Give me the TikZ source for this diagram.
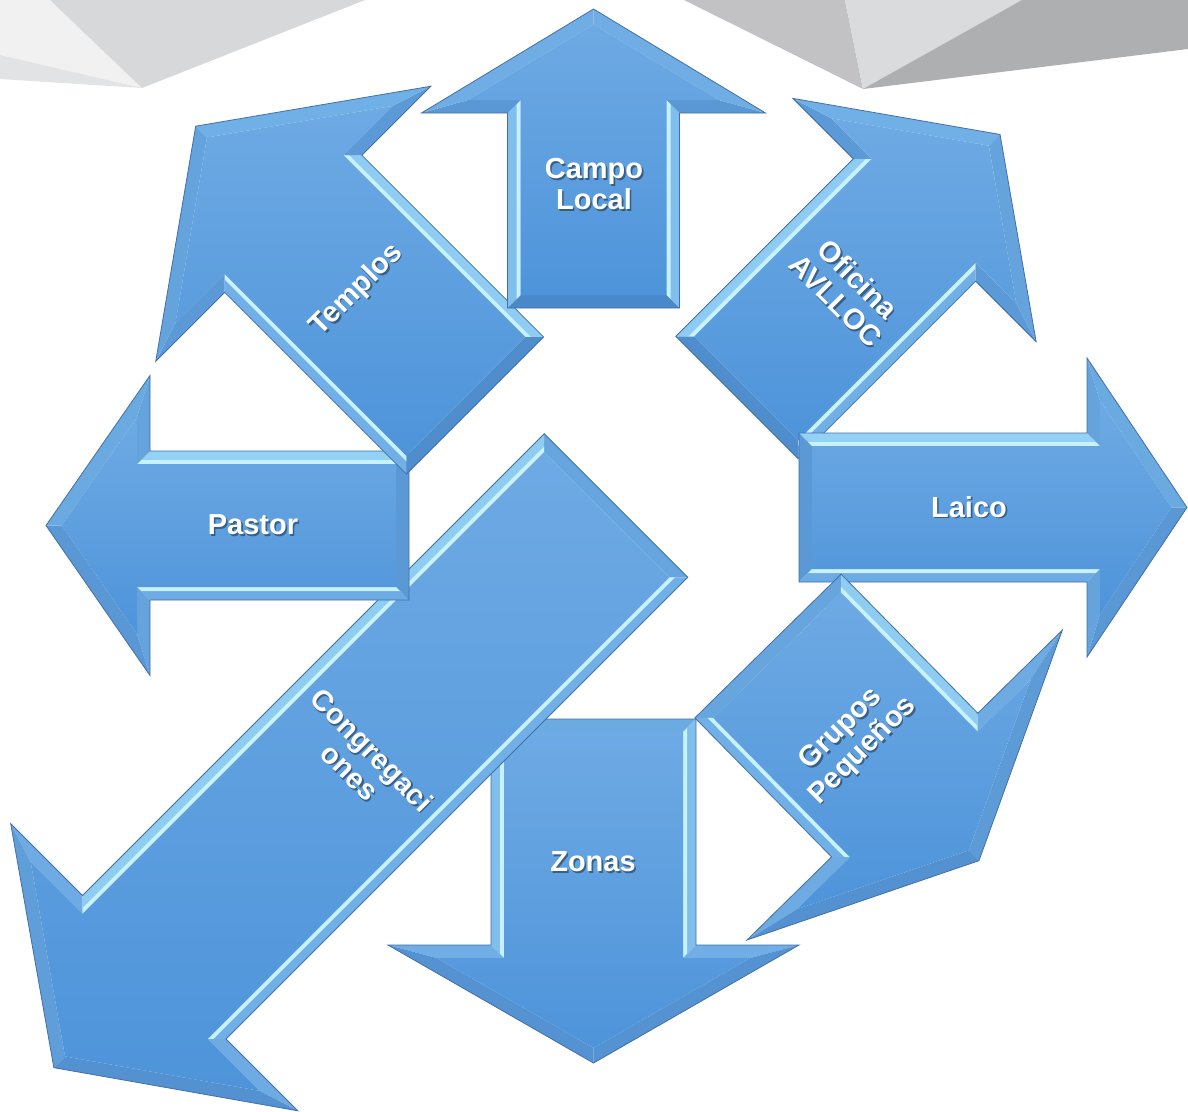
\documentclass[tikz,border=0pt]{standalone}
\usepackage{fontspec}
\setmainfont{Liberation Sans}
\usetikzlibrary{calc}
\definecolor{facetop}{RGB}{110,170,228}
\definecolor{facebot}{RGB}{78,148,218}
\definecolor{bevlight}{RGB}{122,184,236}
\definecolor{bevdark}{RGB}{66,128,196}
\definecolor{sidelight}{RGB}{150,212,246}
\definecolor{sidedark}{RGB}{100,164,224}
\definecolor{hilite}{RGB}{200,242,255}
\definecolor{edgec}{RGB}{66,112,166}
\definecolor{gA}{RGB}{241,241,241}
\definecolor{gB}{RGB}{226,227,228}
\definecolor{gC}{RGB}{215,216,218}
\definecolor{gD}{RGB}{194,194,196}
\definecolor{gE}{RGB}{218,219,221}
\definecolor{gF}{RGB}{174,175,177}

% #1 name, #2 x, #3 y (tail centre, pixels), #4 direction, #5 length, #6 half shaft, #7 half head, #8 head length
\newcommand{\blockarrow}[8]{%
  \begin{scope}[shift={(#2,#3)},rotate=#4]
    \pgfmathsetmacro{\bhb}{#5-#8}
    \pgfmathsetmacro{\bhbi}{#5-#8+13}
    \pgfmathsetmacro{\bai}{#6-13}
    \pgfmathsetmacro{\bak}{#6-9}
    \pgfmathsetmacro{\bsf}{13*sqrt((#8/100)*(#8/100)+(#7/100)*(#7/100))*100/(#8)}
    \pgfmathsetmacro{\byc}{(#7)/(#8)*((#8)-13)-\bsf}
    \pgfmathsetmacro{\bxt}{#5-\bsf/(#7)*(#8)}
    \coordinate (#1-o1) at (0,-#6);
    \coordinate (#1-o2) at (\bhb,-#6);
    \coordinate (#1-o3) at (\bhb,-#7);
    \coordinate (#1-o4) at (#5,0);
    \coordinate (#1-o5) at (\bhb,#7);
    \coordinate (#1-o6) at (\bhb,#6);
    \coordinate (#1-o7) at (0,#6);
    \coordinate (#1-i1) at (13,-\bai);
    \coordinate (#1-i2) at (\bhbi,-\bai);
    \coordinate (#1-i3) at (\bhbi,-\byc);
    \coordinate (#1-i4) at (\bxt,0);
    \coordinate (#1-i5) at (\bhbi,\byc);
    \coordinate (#1-i6) at (\bhbi,\bai);
    \coordinate (#1-i7) at (13,\bai);
    \coordinate (#1-h1) at (9,-\bak);
    \coordinate (#1-h2) at (\bhbi-4,-\bak);
    \coordinate (#1-h6) at (\bhbi-4,\bak);
    \coordinate (#1-h7) at (9,\bak);
  \end{scope}
  \pgfmathtruncatemacro{\ptail}{45+30*sin(#4+180)}
  \pgfmathtruncatemacro{\pnotch}{62+20*sin(#4+180)}
  \pgfmathtruncatemacro{\pha}{58+28*sin(#4+atan2(#8,#7))}
  \pgfmathtruncatemacro{\phb}{58+28*sin(#4-atan2(#8,#7))}
  \pgfmathtruncatemacro{\psa}{55+40*sin(#4+90)}
  \pgfmathtruncatemacro{\psb}{55+40*sin(#4-90)}
  \fill[bevlight!\ptail!bevdark] (#1-o7)--(#1-o1)--(#1-i1)--(#1-i7)--cycle;
  \fill[sidelight!\psa!sidedark] (#1-o1)--(#1-o2)--(#1-i2)--(#1-i1)--cycle;
  \fill[sidelight!\psb!sidedark] (#1-o6)--(#1-o7)--(#1-i7)--(#1-i6)--cycle;
  \fill[hilite] (#1-i1)--(#1-i2)--(#1-h2)--(#1-h1)--cycle;
  \fill[hilite] (#1-i7)--(#1-i6)--(#1-h6)--(#1-h7)--cycle;
  \fill[bevlight!\pnotch!bevdark] (#1-o2)--(#1-o3)--(#1-i3)--(#1-i2)--cycle;
  \fill[bevlight!\pnotch!bevdark] (#1-o5)--(#1-o6)--(#1-i6)--(#1-i5)--cycle;
  \fill[bevlight!\pha!bevdark] (#1-o3)--(#1-o4)--(#1-i4)--(#1-i3)--cycle;
  \fill[bevlight!\phb!bevdark] (#1-o4)--(#1-o5)--(#1-i5)--(#1-i4)--cycle;
  \shade[top color=facetop,bottom color=facebot] (#1-i1)--(#1-i2)--(#1-i3)--(#1-i4)--(#1-i5)--(#1-i6)--(#1-i7)--cycle;
  \draw[edgec,line width=0.8pt,line join=miter] (#1-o1)--(#1-o2)--(#1-o3)--(#1-o4)--(#1-o5)--(#1-o6)--(#1-o7)--cycle;
}

\tikzset{
  lbl/.style={text=white,font=\bfseries\fontsize{29}{31}\selectfont,align=center,inner sep=0pt},
  lblsh/.style={lbl,text=black,opacity=0.4}
}
% #1 name, #2 x, #3 y, #4 rotation, #5 text
\newcommand{\arrowlabel}[5]{%
  \node[lblsh,rotate=#4] (#1-sh) at ($(#2,#3)+(1.6,1.6)$) {#5};
  \node[lbl,rotate=#4] (#1) at (#2,#3) {#5};
}

\begin{document}
\begin{tikzpicture}[x=1pt,y=-1pt]
  \useasboundingbox (0,0) rectangle (1188,1111);
  \fill[white] (0,0) rectangle (1188,1111);
  % background facets
  \fill[gA] (0,0) -- (50,0) -- (142,88) -- (0,55) -- cycle;
  \fill[gB] (0,55) -- (142,88) -- (0,79) -- cycle;
  \fill[gC] (50,0) -- (365,0) -- (142,88) -- cycle;
  \fill[gD] (684,0) -- (845,0) -- (863,89) -- cycle;
  \fill[gE] (845,0) -- (1022,0) -- (863,89) -- cycle;
  \fill[gF] (1022,0) -- (1188,0) -- (1188,49) -- (863,89) -- cycle;

  % arrows (bottom to top)
  \blockarrow{oficina}{737}{397.5}{45}{372}{86.5}{172}{121}
  \blockarrow{laico}{799}{507.5}{0}{388}{74.5}{149.5}{100}
  \blockarrow{grupos}{768}{646}{-45.5}{301}{102.5}{221}{106}
  \blockarrow{zonas}{593.5}{719}{-90}{344}{102.5}{205.5}{118}
  \blockarrow{congreg}{616}{505.5}{-135}{795}{101.5}{203}{142}
  \blockarrow{pastor}{409}{525.5}{180}{363}{74.5}{150}{104}
  \blockarrow{templos}{475}{405.5}{135}{395}{97}{194.5}{138}
  \blockarrow{campo}{593.5}{308}{90}{299}{86}{172}{104}

  % labels
  \arrowlabel{t-campo}{594}{184}{0}{Campo\\Local}
  \arrowlabel{t-pastor}{253}{525}{0}{Pastor}
  \arrowlabel{t-laico}{969}{507}{0}{Laico}
  \arrowlabel{t-zonas}{593}{862}{0}{Zonas}
  \arrowlabel{t-templos}{357}{290}{45}{Templos}
  \arrowlabel{t-oficina}{847}{290}{-45}{Oficina\\AVLLOC}
  \arrowlabel{t-grupos}{852}{740}{45}{Grupos\\Pequeños}
  \arrowlabel{t-congreg}{361}{761}{-45}{Congregaci\\ones}
\end{tikzpicture}
\end{document}
